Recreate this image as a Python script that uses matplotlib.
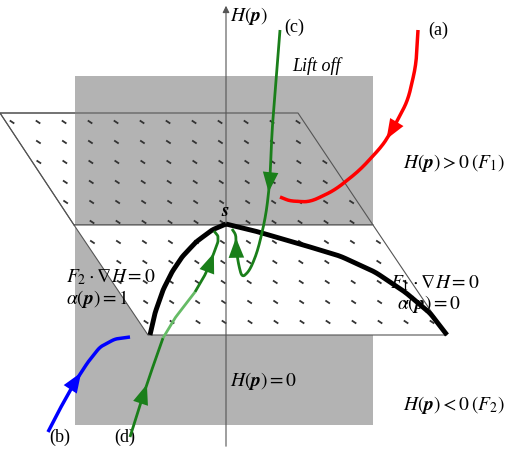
import matplotlib
matplotlib.use("Agg")
import matplotlib.pyplot as plt
import numpy as np
from matplotlib.patches import Polygon, Rectangle
from matplotlib.path import Path

plt.rcParams['mathtext.fontset'] = 'stix'
plt.rcParams['font.family'] = ['Liberation Serif', 'DejaVu Serif']

# diagram geometry (pixel space)
plane_back = [(0,113),(298,113),(373,225),(74,225)]
plane_front = [(74,225),(373,225),(447,335),(148,335)]
gray_rect = (75, 76, 298, 349)

boundary_left = [(150,335),(155,313),(163,290),(172,272),(182,257),(196,242),(212,230),(226,224)]
boundary_right = [(226,224),(255,231),(300,244),(340,256),(375,272),(405,292),(430,313),(447,335)]
red = [(418,30),(416,65),(408,100),(395,125),(383,145),(360,170),(335,190),(310,202),(290,201),(280,197)]
blue = [(130,337),(115,339),(100,347),(88,362),(75,382),(62,405),(48,432)]
green_c = [(280,30),(276,80),(272,130),(270,180),(266,215),(258,250),(250,270),(242,278),(238,262),(236,245),(236,235),(232,229)]
green_d_dark1 = [(130,437),(140,405),(150,375),(163,338)]
green_d_light = [(163,338),(175,318),(195,292)]
green_d_dark2 = [(195,292),(205,275),(212,258),(218,242),(218,236),(214,231)]

fig = plt.figure(figsize=(5.2,4.49), dpi=100)
ax = fig.add_axes([0,0,1,1])
ax.set_xlim(0,520); ax.set_ylim(449,0); ax.axis('off')

ax.add_patch(Polygon(plane_back, closed=True, fc='white', ec='#555555', lw=0.8, zorder=0))
ax.add_patch(Rectangle(gray_rect[:2], gray_rect[2], gray_rect[3], fc='#b3b3b3', ec='none', zorder=1))
ax.add_patch(Polygon(plane_back, closed=True, fc='none', ec='#555555', lw=0.8, zorder=1.5))
ax.add_patch(Polygon(plane_front, closed=True, fc='white', ec='#555555', lw=0.8, zorder=2))

# dots on the plane
allpoly = Path([(0,113),(298,113),(447,335),(148,335),(0,113)])
for yy in np.arange(122, 335, 20):
    off = ((yy-122)/20 % 2) * 13
    for xx in np.arange(-20+off, 460, 26):
        xs = xx + (yy-113)*0.67
        if allpoly.contains_point((xs, yy)):
            ax.plot([xs-1.5, xs+1.5], [yy-1, yy+1], color='#333333', lw=1.3, zorder=3)

# vertical axis
ax.annotate('', xy=(226,3), xytext=(226,449),
            arrowprops=dict(arrowstyle='-|>', color='#555555', lw=0.8, mutation_scale=10), zorder=3)

def curve(pts, color, lw, z=5, k=7):
    p = np.array(pts, float)
    t = np.linspace(0,1,len(p))
    tt = np.linspace(0,1,200)
    x = np.interp(tt, t, p[:,0]); y = np.interp(tt, t, p[:,1])
    xs = np.convolve(np.pad(x,k,mode='edge'), np.ones(2*k+1)/(2*k+1), 'valid')
    ys = np.convolve(np.pad(y,k,mode='edge'), np.ones(2*k+1)/(2*k+1), 'valid')
    xs[0],ys[0],xs[-1],ys[-1] = x[0],y[0],x[-1],y[-1]
    ax.plot(xs, ys, color=color, lw=lw, zorder=z, solid_capstyle='butt')
    return xs, ys

def arrow(xs, ys, frac, color):
    i = int(frac*len(xs))
    ax.annotate('', xy=(xs[i+2], ys[i+2]), xytext=(xs[i-2], ys[i-2]),
                arrowprops=dict(arrowstyle='-|>,head_length=0.9,head_width=0.35', color=color, lw=0, mutation_scale=16), zorder=6)

curve(boundary_left, 'black', 3.5, 4, k=4)
curve(boundary_right, 'black', 3.5, 4, k=4)
xs, ys = curve(red, '#ff0000', 2.5); arrow(xs, ys, 0.4, '#ff0000')
xs, ys = curve(blue, '#0000ff', 2.5); arrow(xs[::-1], ys[::-1], 0.4, '#0000ff')
xs, ys = curve(green_c, '#1a7f1a', 2.0); arrow(xs, ys, 0.3, '#1a7f1a'); arrow(xs, ys, 0.87, '#1a7f1a')
xs, ys = curve(green_d_dark1, '#1a7f1a', 2.0); arrow(xs, ys, 0.55, '#1a7f1a')
curve(green_d_light, '#66bb66', 2.0)
xs, ys = curve(green_d_dark2, '#1a7f1a', 2.0); arrow(xs, ys, 0.45, '#1a7f1a')

fs = 14
ax.text(230, 16, r'$H(\boldsymbol{p})$', fontsize=fs, va='center')
ax.text(294, 27, '(c)', fontsize=13, va='center', ha='center')
ax.text(438, 30, '(a)', fontsize=13, va='center', ha='center')
ax.text(60, 437, '(b)', fontsize=13, va='center', ha='center')
ax.text(125, 437, '(d)', fontsize=13, va='center', ha='center')
ax.text(292, 66, 'Lift off', fontsize=13, style='italic', va='center')
ax.text(403, 163, r'$H(\boldsymbol{p})>0\,(F_1)$', fontsize=fs, va='center')
ax.text(403, 405, r'$H(\boldsymbol{p})<0\,(F_2)$', fontsize=fs, va='center')
ax.text(230, 381, r'$H(\boldsymbol{p})=0$', fontsize=fs, va='center')
ax.text(66, 277, r'$F_2\cdot\nabla H=0$', fontsize=fs, va='center')
ax.text(66, 299, r'$\alpha(\boldsymbol{p})=1$', fontsize=fs, va='center')
ax.text(390, 283, r'$F_1\cdot\nabla H=0$', fontsize=fs, va='center')
ax.text(397, 304, r'$\alpha(\boldsymbol{p})=0$', fontsize=fs, va='center')
ax.text(221, 212, r'$\boldsymbol{s}$', fontsize=fs, va='center')

fig.savefig('out.png', dpi=100)
